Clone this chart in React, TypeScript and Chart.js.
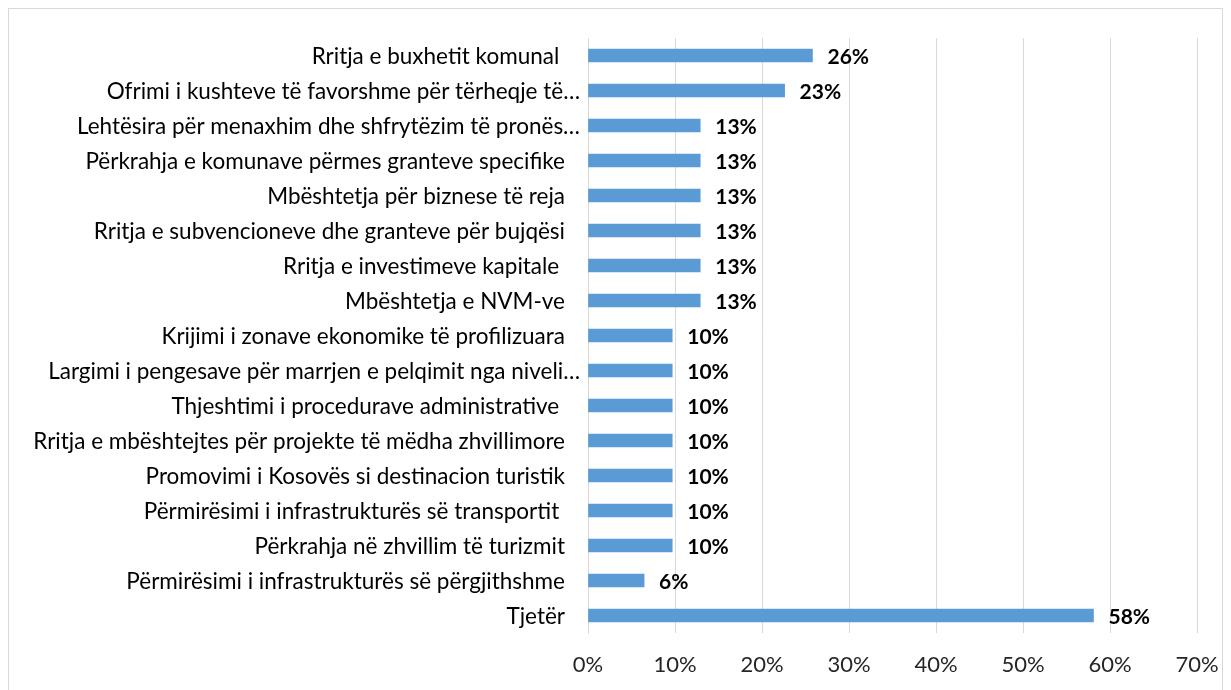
import React, { useEffect, useRef } from "react";
import { Chart, registerables } from "chart.js";

Chart.register(...registerables);

const categories: string[] = [
  "Rritja e buxhetit komunal ",
  "Ofrimi i kushteve të favorshme për tërheqje të…",
  "Lehtësira për menaxhim dhe shfrytëzim të pronës…",
  "Përkrahja e komunave përmes granteve specifike",
  "Mbështetja për biznese të reja",
  "Rritja e subvencioneve dhe granteve për bujqësi",
  "Rritja e investimeve kapitale ",
  "Mbështetja e NVM-ve",
  "Krijimi i zonave ekonomike të profilizuara",
  "Largimi i pengesave për marrjen e pelqimit nga niveli…",
  "Thjeshtimi i procedurave administrative ",
  "Rritja e mbështejtes për projekte të mëdha zhvillimore",
  "Promovimi i Kosovës si destinacion turistik",
  "Përmirësimi i infrastrukturës së transportit ",
  "Përkrahja në zhvillim të turizmit",
  "Përmirësimi i infrastrukturës së përgjithshme",
  "Tjetër",
];

const values: number[] = [
  25.8, 22.6, 12.9, 12.9, 12.9, 12.9, 12.9, 12.9, 9.68, 9.68, 9.68, 9.68, 9.68, 9.68, 9.68, 6.45, 58.1,
];

const xTicks: number[] = [0, 10, 20, 30, 40, 50, 60, 70];

const FONT = "Lato, 'Open Sans', sans-serif";

const dataLabelPlugin = {
  id: "dataLabels",
  afterDatasetsDraw(chart: any) {
    const ctx = chart.ctx;
    const meta = chart.getDatasetMeta(0);
    ctx.save();
    ctx.font = `bold 21px ${FONT}`;
    ctx.fillStyle = "#000000";
    ctx.textAlign = "left";
    ctx.textBaseline = "middle";
    meta.data.forEach((el: any, i: number) => {
      const v = values[i];
      ctx.fillText(Math.round(v) + "%", el.x + 15, el.y + 2);
    });
    ctx.restore();
  },
};

const categoryLabelPlugin = {
  id: "categoryLabels",
  afterDraw(chart: any) {
    const ctx = chart.ctx;
    const yScale = chart.scales.y;
    const left = chart.chartArea.left;
    ctx.save();
    ctx.font = `22.5px ${FONT}`;
    ctx.fillStyle = "#000000";
    ctx.textAlign = "right";
    ctx.textBaseline = "middle";
    categories.forEach((label, i) => {
      const y = yScale.getPixelForValue(i);
      const gap = label.endsWith("…") ? 8 : 23;
      ctx.fillText(label, left - gap, y + 1);
    });
    ctx.restore();
  },
};

export default function App() {
  const ref = useRef<HTMLCanvasElement | null>(null);
  useEffect(() => {
    document.body.style.overflow = "hidden";
    if (!ref.current) return;
    const chart = new Chart(ref.current, {
      type: "bar",
      data: {
        labels: categories,
        datasets: [
          {
            data: values,
            backgroundColor: "#5b9bd5",
            borderWidth: 0,
            barThickness: 13,
          },
        ],
      },
      options: {
        indexAxis: "y",
        animation: false,
        responsive: false,
        maintainAspectRatio: false,
        layout: { padding: { left: 0, right: 25, top: 29, bottom: 0 } },
        plugins: {
          legend: { display: false },
          tooltip: { enabled: false },
        },
        scales: {
          x: {
            min: 0,
            max: 70,
            afterBuildTicks: (scale: any) => {
              scale.ticks = xTicks.map((v) => ({ value: v }));
            },
            afterFit: (scale: any) => {
              scale.height = 57;
              scale.paddingLeft = 0;
              scale.paddingRight = 0;
            },
            grid: { color: "#d9d9d9", lineWidth: 1, drawTicks: false },
            border: { display: false },
            ticks: {
              padding: 19,
              color: "#262626",
              font: { family: FONT, size: 22 },
              callback: (v: any) => v + "%",
            },
          },
          y: {
            afterFit: (scale: any) => {
              scale.width = 579;
            },
            grid: { display: false, drawTicks: false },
            border: { display: true, color: "#d9d9d9", width: 1 },
            ticks: { display: false, autoSkip: false },
          },
        },
      },
      plugins: [dataLabelPlugin, categoryLabelPlugin],
    });
    return () => chart.destroy();
  }, []);
  return (
    <div
      style={{
        width: 1213,
        height: 700,
        border: "1px solid #d9d9d9",
        background: "#fff",
      }}
    >
      <canvas ref={ref} width={1213} height={681} style={{ display: "block" }} />
    </div>
  );
}
